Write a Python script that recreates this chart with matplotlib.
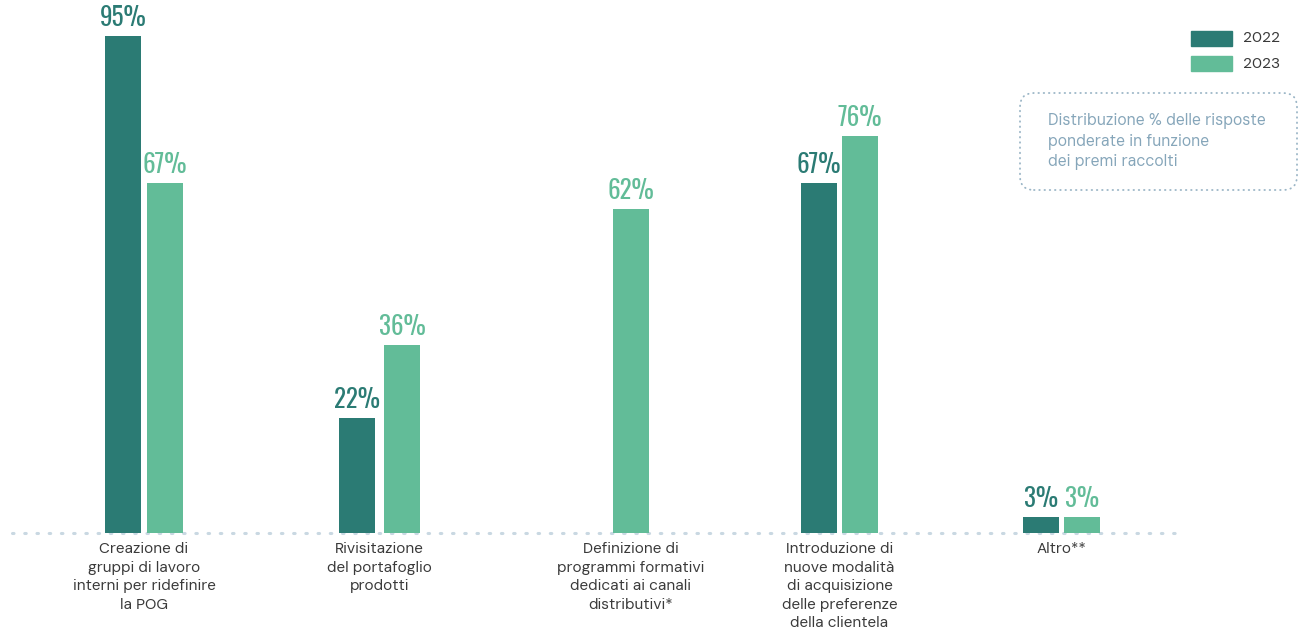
import matplotlib.pyplot as plt
from matplotlib.patches import FancyBboxPatch

# Data
categories = [
    "Creazione di\ngruppi di lavoro\ninterni per ridefinire\nla POG",
    "Rivisitazione\ndel portafoglio\nprodotti",
    "Definizione di\nprogrammi formativi\ndedicati ai canali\ndistributivi*",
    "Introduzione di\nnuove modalità\ndi acquisizione\ndelle preferenze\ndella clientela",
    "Altro**",
]
values_2022 = [95, 22, None, 67, 3]
values_2023 = [67, 36, 62, 76, 3]
series_names = ["2022", "2023"]
note = "Distribuzione % delle risposte\nponderate in funzione\ndei premi raccolti"

dark = "#2b7b74"
light = "#62bc98"
text_col = "#3a3a3a"
note_col = "#86a6ba"
dot_col = "#c9d8e2"

# bar centres along x (figure pixel units)
x_2022 = [123, 357, None, 819, 1041]
x_2023 = [165, 402, 631, 860, 1082]
label_x = [144, 379.5, 631, 839.5, 1061.5]
bar_w = 36

W, H = 1304, 634
base = 533          # baseline, pixels from top
scale = 5.23        # pixels per percentage point

fig = plt.figure(figsize=(W / 100, H / 100), dpi=100)
ax = fig.add_axes([0, 0, 1, 1])
ax.set_xlim(0, W)
ax.set_ylim(-(H - base) / scale, base / scale)
ax.axis("off")

num_font = ["Oswald", "DejaVu Sans"]
txt_font = ["DM Sans", "Inter", "DejaVu Sans"]


def px(p):
    # pixel length -> data units on y
    return p / scale


for xs, vals, col in [(x_2022, values_2022, dark), (x_2023, values_2023, light)]:
    for x, v in zip(xs, vals):
        if x is None or v is None:
            continue
        ax.bar(x, v, width=bar_w, color=col, zorder=3)
        ax.text(x, v + px(10), f"{v}%", ha="center", va="baseline", color=col,
                fontsize=18, family=num_font)

# dotted baseline
ax.plot([12, 1185], [0, 0], color=dot_col, lw=2.2, linestyle=(0, (0.5, 3.5)),
        dash_capstyle="round", zorder=1)

for c, lab in zip(label_x, categories):
    ax.text(c, -px(9), lab, ha="center", va="top", color=text_col,
            fontsize=11, family=txt_font, linespacing=1.42)

# legend
for i, (name, col) in enumerate(zip(series_names, [dark, light])):
    top = 31 + i * 25
    ax.add_patch(plt.Rectangle((1191, px(base - top - 15)), 41, px(15), color=col))
    ax.text(1243, px(base - top - 7.5), name, va="center", ha="left",
            color=text_col, fontsize=11, family=txt_font)

# note box
box = FancyBboxPatch((1020, px(base - 190)), 277, px(97),
                     boxstyle="round,pad=0,rounding_size=14",
                     mutation_aspect=1 / scale,
                     fill=False, edgecolor="#9ab5c6", lw=1.3,
                     linestyle=(0, (0.3, 2.6)), capstyle="round")
ax.add_patch(box)
ax.text(1048, px(base - 113), note, ha="left", va="top", color=note_col,
        fontsize=11.3, family=txt_font, linespacing=1.38)

fig.savefig("out.png", dpi=100, facecolor="white")
